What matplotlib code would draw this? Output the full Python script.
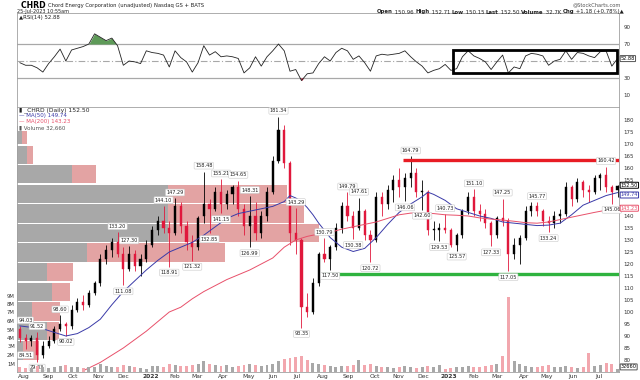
import matplotlib
matplotlib.use("Agg")
import matplotlib.pyplot as plt
import matplotlib.dates as mdates
import matplotlib.transforms as mtransforms
from matplotlib.patches import Rectangle
import numpy as np
import pandas as pd

plt.rcParams['font.family'] = ['DejaVu Sans']

# ---------------- data (weekly) ----------------
week_start = pd.date_range('2021-07-26', periods=105, freq='W-MON')

opens = [93, 89, 88, 89, 82, 86, 88, 93, 95, 94, 101, 104, 103, 108, 112, 122, 126, 129, 124, 118,
         124, 119, 122, 128, 134, 138, 135, 133, 144, 136, 129, 127, 140, 145, 143, 150, 145, 149, 152, 143,
         136, 140, 133, 140, 150, 163, 176, 162, 133, 130, 102, 100, 112, 124, 122, 127, 135, 144, 140, 135,
         142, 132, 130, 148, 145, 151, 155, 152, 156, 158, 150, 150, 134, 134, 135, 134, 128, 132, 142, 148,
         142, 141, 137, 132, 139, 138, 124, 128, 131, 142, 144, 142, 138, 137, 140, 141, 152, 147, 154, 151,
         150, 156, 157, 152, 150.96]
highs = [94.03, 91, 90.5, 91.52, 88, 90, 94, 98.6, 96, 103, 106, 107, 109, 113, 124, 128, 131, 133.2, 127, 127.3,
         126, 124, 130, 136, 140, 144.1, 138, 147.29, 146, 138, 132, 140, 158.48, 147, 152, 155.21, 151, 153, 154.65, 145,
         148.31, 146, 142, 152, 165, 181.34, 178, 163, 143.29, 131, 108, 114, 125, 130.79, 128, 137, 146, 149.79, 142, 147.61,
         143, 134, 150, 150, 153, 157, 160, 158, 164.79, 160, 155, 151, 138, 137, 140.73, 135, 133, 143, 150, 151.1,
         145, 143, 138, 140, 147.25, 139, 131, 132, 144, 146, 145.77, 143, 140, 142, 143, 154, 153, 156, 155, 153,
         157, 158, 160.42, 153, 152.71]
lows = [87.5, 84.51, 86, 79.33, 81, 85, 87, 92, 90.02, 93, 100, 101, 102, 107, 111, 120, 123, 123, 111.08, 117,
        117, 115, 121, 127, 132, 133, 118.91, 132, 133, 126, 121.32, 126, 137, 132.85, 142, 141.15, 143, 145, 140, 132,
        126.99, 130, 131, 138, 149, 162, 160, 128, 124, 93.35, 98, 99, 111, 121, 117.5, 126, 133, 138, 130.38, 134,
        130, 120.72, 129, 140, 143, 146, 148, 146.06, 152, 148, 142.6, 132, 130, 129.53, 133, 127, 125.57, 131, 141, 140,
        138, 135, 127.33, 131, 136, 117.05, 122, 120, 130, 140, 140, 136, 133.24, 135, 137, 140, 144, 146, 148, 146,
        149, 151, 150, 145.06, 148]
closes = [89, 88, 89, 82, 86, 88, 93, 95, 94, 101, 104, 103, 108, 112, 122, 126, 129, 124, 118, 124,
          119, 122, 128, 134, 138, 135, 133, 144, 136, 129, 127, 139, 145, 143, 150, 145, 149, 152, 143, 136,
          140, 133, 140, 150, 163, 176, 162, 133, 130, 102, 100, 112, 124, 122, 127, 135, 144, 140, 135, 142,
          132, 130, 148, 145, 151, 155, 152, 156, 158, 150, 150, 134, 134, 135, 134, 128, 132, 142, 148, 142,
          141, 137, 132, 139, 138, 124, 128, 131, 142, 144, 142, 138, 137, 140, 141, 152, 147, 154, 151, 150,
          156, 157, 152, 150, 152.5]
volumes_m = [0.6, 0.5, 0.5, 0.7, 0.6, 0.5, 0.6, 0.7, 0.8, 0.6, 0.6, 0.5, 0.6, 0.6, 0.9, 0.7, 0.6, 0.6, 0.8, 0.7,
             0.6, 0.5, 0.4, 0.7, 0.7, 0.6, 0.9, 0.8, 0.7, 0.7, 0.8, 1.0, 1.3, 0.9, 0.8, 0.7, 0.8, 0.6, 0.7, 0.8,
             0.9, 0.8, 0.7, 0.8, 1.0, 1.3, 1.5, 1.6, 1.8, 1.9, 1.4, 1.1, 0.9, 0.8, 0.7, 0.6, 0.7, 0.7, 0.8, 1.4,
             0.8, 0.9, 0.7, 0.6, 0.6, 0.5, 0.6, 0.7, 0.6, 0.5, 0.6, 0.7, 0.6, 0.8, 0.4, 0.5, 0.6, 0.6, 0.7, 0.6,
             0.6, 0.7, 0.8, 1.0, 1.9, 8.8, 1.3, 0.9, 0.7, 0.6, 0.6, 0.7, 0.8, 0.6, 0.6, 0.7, 0.6, 0.5, 0.6, 2.2,
             0.7, 0.8, 1.1, 1.0, 0.4]
rsi = [48, 45, 45, 42, 37, 47, 55, 64, 50, 63, 65, 67, 70, 82, 78, 74, 77, 68, 45, 50,
       49, 47, 62, 60, 59, 57, 43, 62, 54, 49, 37, 48, 68, 57, 61, 55, 56, 55, 53, 36,
       42, 55, 44, 55, 62, 70, 62, 38, 40, 27, 35, 36, 47, 55, 50, 60, 65, 62, 52, 56,
       48, 38, 56, 58, 57, 58, 59, 62, 55, 49, 44, 36, 39, 41, 46, 39, 41, 55, 62, 56,
       53, 49, 40, 49, 57, 36, 43, 41, 56, 59, 58, 56, 45, 50, 52, 62, 52, 60, 59, 56,
       54, 61, 62, 44, 52.88]

ma50_weeks = [0, 4, 8, 10, 12, 14, 16, 18, 20, 22, 24, 26, 28, 30, 32, 34, 36, 38, 40, 42, 44, 46, 47, 48,
              49, 50, 51, 52, 53, 54, 56, 58, 60, 62, 64, 66, 68, 70, 71, 72, 74, 76, 78, 80, 82, 84, 86, 88,
              90, 92, 94, 96, 98, 100, 102, 104]
ma50_vals = [94.2, 93.0, 90.0, 91, 93.5, 97, 103, 108.5, 113, 117.5, 121.5, 125, 127, 129, 132, 135.5, 139, 141,
             142, 143, 144, 146, 148.5, 147.5, 146, 143.5, 140.5, 137, 134, 131, 127, 125.2, 126.5, 131, 136.5,
             141.5, 145, 148, 149.9, 149, 146.5, 143, 141.5, 140, 139, 137.5, 137, 136.5, 136, 136.2, 137, 140.5,
             144.5, 146.5, 148.5, 149.74]
ma200_weeks = [11, 14, 16, 18, 20, 22, 24, 26, 28, 30, 32, 34, 36, 38, 40, 42, 44, 46, 48, 50, 52, 54, 56, 58,
               60, 62, 64, 66, 68, 70, 72, 74, 76, 78, 80, 82, 84, 86, 88, 90, 92, 94, 96, 98, 100, 102, 104]
ma200_vals = [75.5, 79, 82, 85, 88.5, 92, 96, 100, 102, 105.5, 108.5, 111, 113.5, 115.5, 117.5, 120, 122.5, 127,
              130, 131.5, 132.5, 133.2, 134.5, 135.5, 136.5, 137.5, 139, 140.5, 141.2, 141.3, 141, 140.5, 140.3,
              140, 139.2, 138.7, 138.3, 137.8, 137.2, 137, 137.5, 138.5, 139.5, 140.5, 141.5, 142.4, 143.23]

# volume-by-price (relative units), bins from bottom to top
vbp_edges = [79.8, 88.0, 96.1, 104.3, 112.5, 120.6, 128.8, 137.0, 145.1, 153.3, 161.5, 169.6, 177.8]
vbp_up = [6, 30, 15, 35, 30, 70, 151, 151, 151, 55, 10, 5]
vbp_down = [16, 12, 28, 18, 26, 138, 151, 136, 119, 24, 6, 5]

# labelled highs / lows: (week index, value, 'h' or 'l')
price_labels = [(0, 94.03, 'h'), (1, 84.51, 'l'), (3, 91.52, 'h'), (3, 79.33, 'l'), (7, 98.60, 'h'),
                (8, 90.02, 'l'), (17, 133.20, 'h'), (18, 111.08, 'l'), (19, 127.30, 'h'), (25, 144.10, 'h'),
                (26, 118.91, 'l'), (27, 147.29, 'h'), (30, 121.32, 'l'), (32, 158.48, 'h'), (33, 132.85, 'l'),
                (35, 155.21, 'h'), (35, 141.15, 'l'), (38, 154.65, 'h'), (40, 126.99, 'l'), (40, 148.31, 'h'),
                (45, 181.34, 'h'), (48, 143.29, 'h'), (49, 93.35, 'l'), (53, 130.79, 'h'), (54, 117.50, 'l'),
                (57, 149.79, 'h'), (58, 130.38, 'l'), (59, 147.61, 'h'), (61, 120.72, 'l'), (68, 164.79, 'h'),
                (67, 146.06, 'l'), (70, 142.60, 'l'), (74, 140.73, 'h'), (73, 129.53, 'l'), (76, 125.57, 'l'),
                (79, 151.10, 'h'), (82, 127.33, 'l'), (84, 147.25, 'h'), (85, 117.05, 'l'), (90, 145.77, 'h'),
                (92, 133.24, 'l'), (102, 160.42, 'h'), (103, 145.06, 'l')]

price_ticks = [80, 85, 90, 95, 100, 105, 110, 115, 120, 125, 130, 135, 140, 155, 160, 165, 170, 175, 180]

resistance = 163.3
support = 115.8
last_price, last_ma50, last_ma200, last_vol = 152.50, 149.74, 143.23, 32660
last_rsi = 52.88

# ---------------- figure ----------------
W, H = 640, 380
fig = plt.figure(figsize=(6.4, 3.8), dpi=100)
def fx(x): return x / W
def fy(y): return 1 - y / H

L, R = 17, 619
ax_rsi = fig.add_axes([fx(L), fy(107), fx(R - L), (107 - 13) / H])
ax = fig.add_axes([fx(L), fy(372), fx(R - L), (372 - 107) / H])
axv = ax.twinx()

xd = mdates.date2num(week_start + pd.Timedelta(days=2))
x0 = mdates.date2num(pd.Timestamp('2021-07-24 12:00'))
x1 = mdates.date2num(pd.Timestamp('2023-07-27 18:00'))

spine_c = '#a0a0a0'
RED = '#e0183c'
BLUE = '#3a3aa8'
MARED = '#e8506a'

# ---- volume by price (behind candles)
trans = mtransforms.blended_transform_factory(ax.transAxes, ax.transData)
tot = np.array(vbp_up) + np.array(vbp_down)
scale = 0.502 / tot.max()
for k in range(len(vbp_up)):
    b0, b1 = vbp_edges[k] + 0.25, vbp_edges[k + 1] - 0.25
    up = vbp_up[k] * scale
    dn = vbp_down[k] * scale
    ax.add_patch(Rectangle((0, b0), up, b1 - b0, transform=trans, facecolor='#a8a8a8',
                           edgecolor='none', zorder=1))
    ax.add_patch(Rectangle((up, b0), dn, b1 - b0, transform=trans, facecolor='#e3a3a3',
                           edgecolor='none', zorder=1))

# ---- candles
bw = 2.6
for i in range(len(xd)):
    c = RED if closes[i] < opens[i] else 'black'
    ax.vlines(xd[i], lows[i], highs[i], color=c, lw=0.6, zorder=3)
    lo, hi = min(opens[i], closes[i]), max(opens[i], closes[i])
    ax.add_patch(Rectangle((xd[i] - bw / 2, lo), bw, max(hi - lo, 0.4), facecolor=c,
                           edgecolor=c, lw=0.3, zorder=3))

# ---- moving averages
ax.plot(xd[ma50_weeks], ma50_vals, color=BLUE, lw=0.7, zorder=4)
ax.plot(xd[ma200_weeks], ma200_vals, color=MARED, lw=0.7, zorder=4)

# ---- support / resistance
ax.hlines(resistance, mdates.date2num(pd.Timestamp('2022-11-07')), x1, color='#e81c24', lw=2.4, zorder=5)
ax.hlines(support, mdates.date2num(pd.Timestamp('2022-07-31')), x1, color='#2fb33f', lw=2.4, zorder=5)

# ---- price labels
for w, v, kind in price_labels:
    off = 2.5 if kind == 'h' else -2.5
    dx = 4 if w == 0 else 0
    ax.annotate(f'{v:.2f}', (xd[w], v), xytext=(dx, off), textcoords='offset points',
                ha='center', va='bottom' if kind == 'h' else 'top', fontsize=3.6, color='#222222',
                bbox=dict(boxstyle='round,pad=0.18', fc='white', ec='#c8c8c8', lw=0.4), zorder=6)

ax.set_xlim(x0, x1)
ax.set_ylim(75, 185.4)
ax.yaxis.tick_right()
ax.set_yticks(price_ticks)
ax.tick_params(axis='y', labelsize=4, length=0, pad=3, colors='#333333')

months = pd.date_range('2021-08-01', '2023-07-31', freq='BMS')
ax.set_xticks(mdates.date2num(months))
labs = [str(m.year) if m.month == 1 else m.strftime('%b') for m in months]
ax.set_xticklabels(labs, fontsize=4.3, color='#333333')
for t, m in zip(ax.get_xticklabels(), months):
    if m.month == 1:
        t.set_fontweight('bold')
ax.tick_params(axis='x', length=0, pad=1.2)
for s in ax.spines.values():
    s.set_color(spine_c); s.set_linewidth(0.6)

# ---- volume
vcol = ['#f2a7ae' if closes[i] < opens[i] else '#a8a8a8' for i in range(len(xd))]
axv.bar(xd, volumes_m, width=3.6, color=vcol, zorder=2)
axv.set_ylim(0, 265 / 8.5)
axv.yaxis.tick_left()
axv.set_yticks(range(1, 10))
axv.set_yticklabels([f'{v}M' for v in range(1, 10)])
axv.tick_params(axis='y', labelsize=3.8, length=0, pad=1.5, colors='#333333')
for s in axv.spines.values():
    s.set_visible(False)
axv.set_xlim(x0, x1)

# last value boxes on right
def rbox(axis, y, txt, ec, tc='black'):
    tr = mtransforms.blended_transform_factory(axis.transAxes, axis.transData)
    axis.annotate(txt, (1.0, y), xycoords=tr, xytext=(1.2, 0), textcoords='offset points',
                  ha='left', va='center', fontsize=3.6, color=tc, annotation_clip=False,
                  bbox=dict(boxstyle='round,pad=0.1', fc='white', ec=ec, lw=0.7), zorder=7)
rbox(ax, last_price + 0.3, f'{last_price:.2f}', 'black')
rbox(ax, last_ma50 - 1.0, f'{last_ma50:.2f}', BLUE, BLUE)
rbox(ax, last_ma200, f'{last_ma200:.2f}', MARED, MARED)
rbox(axv, 0.6, f'{last_vol}', '#555555')

# legend block
fig.add_artist(Rectangle((fx(L + 0.5), fy(131)), fx(80), (131 - 107.5) / H, transform=fig.transFigure,
                         facecolor='white', edgecolor='none', zorder=5))
fig.text(fx(19), fy(110), '▮ _CHRD (Daily) 152.50', fontsize=4.3, va='center', color='#222222', zorder=6)
fig.text(fx(19), fy(116), '— MA(50) 149.74', fontsize=4.0, va='center', color=BLUE, zorder=6)
fig.text(fx(19), fy(122), '— MA(200) 143.23', fontsize=4.0, va='center', color=MARED, zorder=6)
fig.text(fx(19), fy(128), '▮ Volume 32,660', fontsize=4.0, va='center', color='#555555', zorder=6)

# ---- RSI panel
xr = xd
ax_rsi.plot(xr, rsi, color='#222222', lw=0.6, zorder=3)
r = np.array(rsi, dtype=float)
ax_rsi.fill_between(xr, 70, r, where=r > 70, interpolate=True, color='#5e9a58', lw=0, zorder=2)
ax_rsi.fill_between(xr, 30, r, where=r < 30, interpolate=True, color='#e0183c', lw=0, zorder=2)
ax_rsi.axhline(70, color='#a8a8a8', lw=0.9, zorder=1)
ax_rsi.axhline(30, color='#a8a8a8', lw=0.9, zorder=1)
ax_rsi.axhline(50, color='#a8a8a8', lw=0.8, ls=(0, (6, 2, 1, 2)), zorder=1)
bx0 = mdates.date2num(pd.Timestamp('2023-01-06'))
bx1 = mdates.date2num(pd.Timestamp('2023-07-25'))
ax_rsi.add_patch(Rectangle((bx0, 36.2), bx1 - bx0, 63.3 - 36.2, fill=False, edgecolor='black', lw=2.0, zorder=4))
ax_rsi.set_xlim(x0, x1)
ax_rsi.set_ylim(-4.1, 106.5)
ax_rsi.set_xticks([])
ax_rsi.yaxis.tick_right()
ax_rsi.set_yticks([10, 30, 70, 90])
ax_rsi.tick_params(axis='y', labelsize=4, length=0, pad=3, colors='#333333')
for s in ax_rsi.spines.values():
    s.set_color(spine_c); s.set_linewidth(0.6)
ax_rsi.spines['bottom'].set_visible(False)
rbox(ax_rsi, last_rsi, f'{last_rsi:.2f}', '#555555')

# ---- header texts
renderer = fig.canvas.get_renderer()
def seq(x_px, y_px, parts, right=False):
    items = []
    total = 0
    for t, wgt, col, sz in parts:
        tt = fig.text(0, fy(y_px), t, fontsize=sz, fontweight=wgt, va='center', color=col)
        wpx = tt.get_window_extent(renderer).width
        items.append((tt, wpx))
        total += wpx
    xs = x_px - total if right else x_px
    for tt, wpx in items:
        tt.set_x(fx(xs))
        xs += wpx

seq(21, 5, [('CHRD ', 'bold', 'black', 5.6),
            ('Chord Energy Corporation (unadjusted) ', 'normal', '#222222', 3.8),
            ('Nasdaq GS + BATS', 'normal', '#222222', 3.8)])
fig.text(fx(17), fy(11), '25-Jul-2023 10:55am', fontsize=3.5, va='center', color='#222222')
fig.text(fx(19), fy(17.5), '▲RSI(14) 52.88', fontsize=3.9, va='center', color='#222222')
fig.text(fx(621), fy(4.5), '@StockCharts.com', fontsize=3.7, va='center', ha='right', color='#555555')

parts = [('Open', 'bold'), (' 150.96 ', 'normal'), ('High', 'bold'), (' 152.71 ', 'normal'),
         ('Low', 'bold'), (' 150.15 ', 'normal'), ('Last', 'bold'), (' 152.50 ', 'normal'),
         ('Volume', 'bold'), (' 32.7K ', 'normal'), ('Chg', 'bold'), (' +1.18 (+0.78%)▲', 'normal')]
seq(624, 12, [(t, w, '#222222', 3.9) for t, w in parts], right=True)

fig.savefig('out.png', dpi=100)
